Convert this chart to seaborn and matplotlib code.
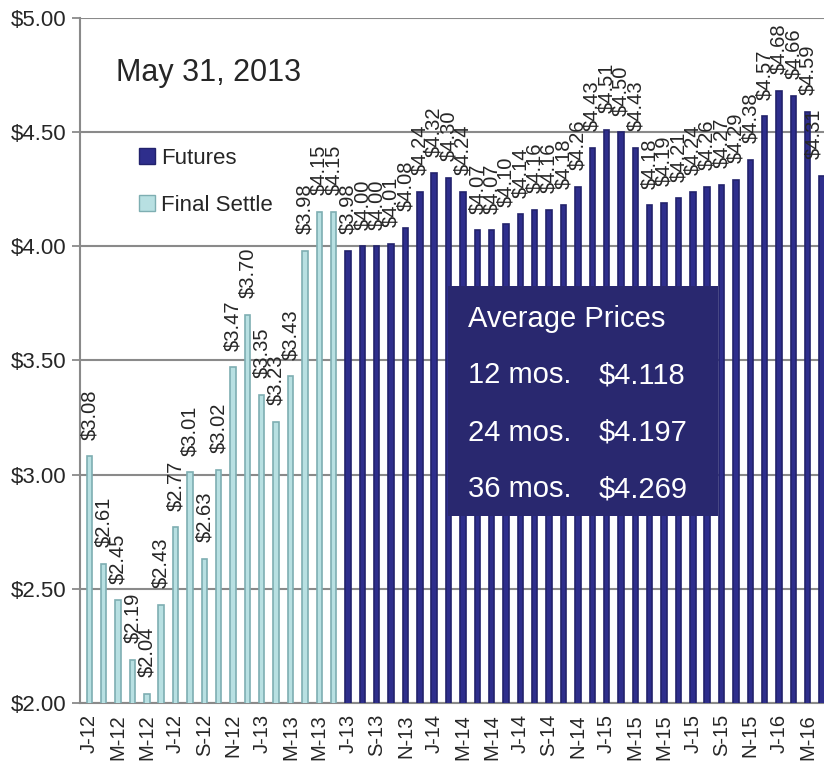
import matplotlib
matplotlib.use("Agg")
import matplotlib.pyplot as plt
import seaborn as sns
import pandas as pd
from matplotlib.patches import Patch, Rectangle

MONTHS = [f"{m}-{y}" for y in range(12, 17) for m in
          ["Jan", "Feb", "Mar", "Apr", "May", "Jun", "Jul", "Aug", "Sep", "Oct", "Nov", "Dec"]][:52]
SETTLE = [3.08, 2.61, 2.45, 2.19, 2.04, 2.43, 2.77, 3.01, 2.63, 3.02, 3.47, 3.70,
          3.35, 3.23, 3.43, 3.98, 4.15, 4.15]
FUTURES = [3.98, 4.00, 4.00, 4.01, 4.08, 4.24, 4.32, 4.30, 4.24, 4.07, 4.07, 4.10,
           4.14, 4.16, 4.16, 4.18, 4.26, 4.43, 4.51, 4.50, 4.43, 4.18, 4.19, 4.21,
           4.24, 4.26, 4.27, 4.29, 4.38, 4.57, 4.68, 4.66, 4.59, 4.31]
TICK_LABELS = [m[0] + "-" + m.split("-")[1] for m in MONTHS[::2]][:26]
AVG_LABELS = ["12 mos.", "24 mos.", "36 mos."]
AVG_VALUES = ["$4.118", "$4.197", "$4.269"]
AS_OF = "May 31, 2013"

LIGHT = "#b8e0e2"
LIGHT_EDGE = "#7eaeb2"
DARK = "#2e2e8c"
DARK_EDGE = "#22226c"
BOX = "#29286f"
GRID = "#8a8a8a"

sns.set_style("white")
plt.rcParams["font.family"] = ["Liberation Sans", "DejaVu Sans"]

df_settle = pd.DataFrame({"month": MONTHS[:len(SETTLE)], "price": SETTLE})
df_fut = pd.DataFrame({"month": MONTHS[len(SETTLE):], "price": FUTURES})

fig = plt.figure(figsize=(8.24, 7.66), dpi=100)
ax = fig.add_axes([80 / 824, 63 / 766, 744 / 824, 685 / 766])

sns.barplot(data=df_settle, x="month", y="price", order=MONTHS, color=LIGHT,
            width=0.38, edgecolor=LIGHT_EDGE, linewidth=1.2, errorbar=None,
            saturation=1, ax=ax, zorder=3)
sns.barplot(data=df_fut, x="month", y="price", order=MONTHS, color=DARK,
            width=0.38, edgecolor=DARK_EDGE, linewidth=1.2, errorbar=None,
            saturation=1, ax=ax, zorder=3)

# value labels above each bar (last one nudged left to stay inside the figure)
prices = SETTLE + FUTURES
for i, v in enumerate(prices):
    dx = -6 if i == len(prices) - 1 else 0
    ax.annotate(f"${v:.2f}", (i, v), xytext=(dx, 12), textcoords="offset points",
                rotation=90, ha="center", va="bottom", fontsize=14.5,
                annotation_clip=False, zorder=4)

ax.set_ylim(2.0, 5.0)
ax.set_xlim(-0.65, 51.13)
ax.set_yticks([2.0, 2.5, 3.0, 3.5, 4.0, 4.5, 5.0])
ax.set_yticklabels([f"${t:.2f}" for t in ax.get_yticks()], fontsize=16)
ax.yaxis.grid(True, color=GRID, linewidth=1.5, zorder=0)
ax.set_axisbelow(True)

ax.set_xticks(range(0, 52, 2)[:26])
ax.set_xticklabels(TICK_LABELS, rotation=90, fontsize=14.5)
ax.set_xticks([x - 0.5 for x in range(0, 52, 2)], minor=True)
ax.tick_params(axis="x", which="major", length=0, pad=8)
ax.tick_params(axis="x", which="minor", length=6, width=1.3, color=GRID)
ax.tick_params(axis="y", length=6, width=1.3, color=GRID, left=True, pad=4)
ax.set_xlabel("")
ax.set_ylabel("")

for s in ["top", "right"]:
    ax.spines[s].set_visible(False)
for s in ["left", "bottom"]:
    ax.spines[s].set_color(GRID)
    ax.spines[s].set_linewidth(1.5)

ax.text(0.0484, 0.908, AS_OF, transform=ax.transAxes, fontsize=22, va="baseline")

handles = [Patch(facecolor=DARK, edgecolor=DARK_EDGE, label="Futures"),
           Patch(facecolor=LIGHT, edgecolor=LIGHT_EDGE, label="Final Settle")]
fig.legend(handles=handles, loc="upper left", bbox_to_anchor=(139 / 824, 1 - 148 / 766),
           frameon=False, fontsize=16, handlelength=0.7, handleheight=0.7,
           handletextpad=0.3, labelspacing=1.15, borderpad=0, borderaxespad=0)

ax.add_patch(Rectangle((0.4946, 0.273), 0.363, 0.336, transform=ax.transAxes,
                       facecolor=BOX, edgecolor="none", zorder=5))
ax.text(0.5215, 0.549, "Average Prices", transform=ax.transAxes, color="white",
        fontsize=21, va="baseline", zorder=6)
for k, (lab, val) in enumerate(zip(AVG_LABELS, AVG_VALUES)):
    y = [0.467, 0.3825, 0.3007][k]
    ax.text(0.5215, y, lab, transform=ax.transAxes, color="white", fontsize=21,
            va="baseline", zorder=6)
    ax.text(0.6976, y, val, transform=ax.transAxes, color="white", fontsize=21,
            va="baseline", zorder=6)

fig.savefig("out.png", dpi=100)
